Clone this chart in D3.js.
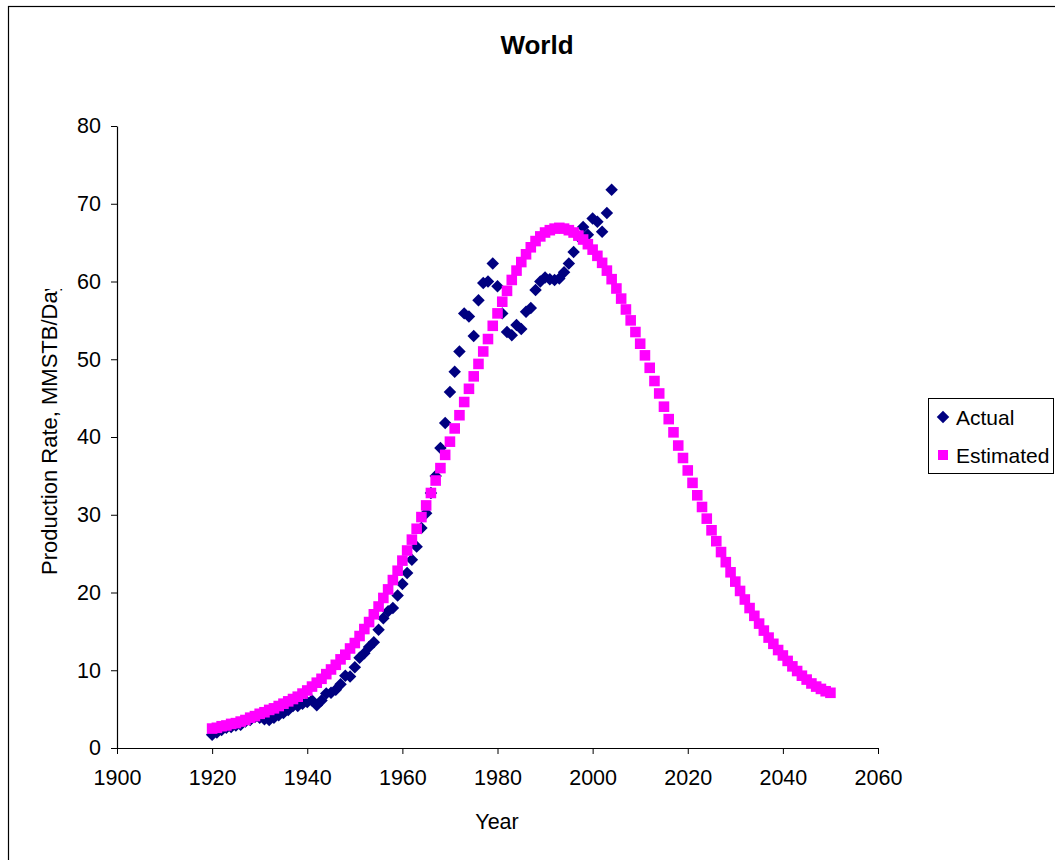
<!DOCTYPE html>
<html>
<head>
<meta charset="utf-8">
<script src="https://cdn.jsdelivr.net/npm/d3@7"></script>
<style>
  html, body { margin: 0; padding: 0; background: #fff; }
  svg { display: block; font-family: "Liberation Sans", Arial, sans-serif; }
</style>
</head>
<body>
<svg id="chart" width="1055" height="860"></svg>
<script>
// World oil production: historical rate and fitted estimate (MMSTB/Day)
const actualStartYear = 1920;
const actualValues = [
  1.7, 2.0, 2.3, 2.6, 2.7, 2.9, 3.0, 3.4, 3.6, 4.0,
  3.9, 3.7, 3.6, 3.9, 4.2, 4.5, 4.9, 5.4, 5.4, 5.7,
  5.9, 6.1, 5.5, 6.1, 7.0, 7.1, 7.5, 8.2, 9.3, 9.2,
  10.4, 11.6, 12.2, 13.0, 13.6, 15.2, 16.7, 17.6, 18.0, 19.6,
  21.1, 22.5, 24.2, 25.9, 28.3, 30.2, 32.8, 35.0, 38.6, 41.8,
  45.8, 48.4, 51.0, 55.9, 55.5, 53.0, 57.6, 59.8, 60.0, 62.3,
  59.4, 55.9, 53.5, 53.1, 54.4, 53.9, 56.1, 56.6, 58.9, 60.0,
  60.5, 60.3, 60.2, 60.4, 61.2, 62.3, 63.8, 65.8, 67.0, 66.0,
  68.1, 67.7, 66.4, 68.8, 71.8
];

const estimatedStartYear = 1920;
const estimatedValues = [
  2.5, 2.6, 2.8, 2.9, 3.1, 3.2, 3.4, 3.6, 3.9, 4.1,
  4.4, 4.6, 4.9, 5.1, 5.4, 5.7, 6.0, 6.3, 6.6, 7.0,
  7.4, 7.9, 8.4, 8.9, 9.5, 10.1, 10.7, 11.4, 12.0, 12.8,
  13.5, 14.4, 15.3, 16.2, 17.2, 18.2, 19.3, 20.4, 21.6, 22.8,
  24.1, 25.4, 26.8, 28.2, 29.7, 31.2, 32.8, 34.4, 36.0, 37.7,
  39.4, 41.1, 42.8, 44.5, 46.2, 47.8, 49.4, 51.0, 52.6, 54.3,
  55.9, 57.4, 58.8, 60.2, 61.4, 62.5, 63.5, 64.4, 65.2, 65.8,
  66.3, 66.6, 66.8, 66.9, 66.8, 66.6, 66.3, 65.9, 65.4, 64.8,
  64.1, 63.3, 62.4, 61.4, 60.3, 59.1, 57.8, 56.4, 55.0, 53.5,
  52.0, 50.5, 48.9, 47.2, 45.6, 43.9, 42.3, 40.6, 38.9, 37.3,
  35.7, 34.1, 32.5, 31.0, 29.5, 28.0, 26.6, 25.2, 23.9, 22.6,
  21.4, 20.2, 19.1, 18.0, 17.0, 16.0, 15.1, 14.2, 13.4, 12.6,
  11.9, 11.2, 10.5, 9.9, 9.3, 8.8, 8.3, 7.9, 7.6, 7.3, 7.1
];

const xTicks = [1900, 1920, 1940, 1960, 1980, 2000, 2020, 2040, 2060];
const yTicks = [0, 10, 20, 30, 40, 50, 60, 70, 80];
const seriesNames = ["Actual", "Estimated"];

const actual = actualValues.map((v, i) => ({ year: actualStartYear + i, value: v }));
const estimated = estimatedValues.map((v, i) => ({ year: estimatedStartYear + i, value: v }));

const svg = d3.select("#chart");
const navy = "#000080";
const magenta = "#FF00FF";
const font = "Liberation Sans, Arial, sans-serif";

// outer chart frame
svg.append("rect")
  .attr("x", 8.5).attr("y", 6.5)
  .attr("width", 1100).attr("height", 900)
  .attr("fill", "#fff").attr("stroke", "#000").attr("stroke-width", 1.2);

const x = d3.scaleLinear().domain([1900, 2060]).range([117, 878]);
const y = d3.scaleLinear().domain([0, 80]).range([748, 126]);

// title
svg.append("text")
  .attr("x", 537).attr("y", 54)
  .attr("text-anchor", "middle")
  .attr("font-size", 26).attr("font-weight", "bold")
  .text("World");

// axes
const xAxis = svg.append("g")
  .attr("transform", `translate(0,${y(0)})`)
  .call(d3.axisBottom(x).tickValues(xTicks).tickFormat(d3.format("d")).tickSize(6).tickSizeOuter(0).tickPadding(16));
const yAxis = svg.append("g")
  .attr("transform", `translate(${x(1900)},0)`)
  .call(d3.axisLeft(y).tickValues(yTicks).tickSize(6).tickSizeOuter(0).tickPadding(10));

[xAxis, yAxis].forEach(g => {
  g.select(".domain").attr("stroke", "#000").attr("stroke-width", 1.2);
  g.selectAll(".tick line").attr("stroke", "#000");
  g.selectAll(".tick text")
    .attr("fill", "#000")
    .attr("font-size", 21.5)
    .attr("font-family", font);
});

// axis titles
svg.append("text")
  .attr("x", 497).attr("y", 829)
  .attr("text-anchor", "middle")
  .attr("font-size", 21.5)
  .text("Year");

// the vertical title runs past the top of its slot and is cut there
svg.append("clipPath").attr("id", "ylabel-clip")
  .append("rect").attr("x", 0).attr("y", 289).attr("width", 110).attr("height", 500);

svg.append("g").attr("clip-path", "url(#ylabel-clip)")
  .append("text")
  .attr("transform", "translate(57,575) rotate(-90)")
  .attr("text-anchor", "start")
  .attr("font-size", 22)
  .text("Production Rate, MMSTB/Day");

// series markers: diamonds are squares turned by 45 degrees
const diamond = d3.symbol().type(d3.symbolSquare).size(78);
const square = d3.symbol().type(d3.symbolSquare).size(112);

svg.append("g").selectAll("path")
  .data(actual)
  .join("path")
  .attr("d", diamond)
  .attr("transform", d => `translate(${x(d.year)},${y(d.value)}) rotate(45)`)
  .attr("fill", navy);

svg.append("g").selectAll("path")
  .data(estimated)
  .join("path")
  .attr("d", square)
  .attr("transform", d => `translate(${x(d.year)},${y(d.value)})`)
  .attr("fill", magenta);

// legend
const legend = svg.append("g");
legend.append("rect")
  .attr("x", 928.5).attr("y", 398.5)
  .attr("width", 125).attr("height", 75)
  .attr("fill", "#fff").attr("stroke", "#000").attr("stroke-width", 1);

const legendRows = [
  { name: seriesNames[0], sym: diamond, color: navy, ty: 417, rot: 45 },
  { name: seriesNames[1], sym: d3.symbol().type(d3.symbolSquare).size(100), color: magenta, ty: 455, rot: 0 }
];
legendRows.forEach(r => {
  legend.append("path")
    .attr("d", r.sym)
    .attr("transform", `translate(943,${r.ty}) rotate(${r.rot})`)
    .attr("fill", r.color);
  legend.append("text")
    .attr("x", 956).attr("y", r.ty + 7.5)
    .attr("font-size", 21)
    .text(r.name);
});
</script>
</body>
</html>
